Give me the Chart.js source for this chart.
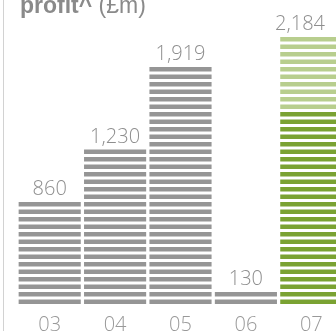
<!DOCTYPE html>
<html>
<head>
<meta charset="utf-8">
<script src="https://cdn.jsdelivr.net/npm/chart.js@4/dist/chart.umd.min.js"></script>
<style>
  html, body { margin: 0; padding: 0; background: #fff; overflow: hidden; }
  #frame { width: 336px; height: 331px; overflow: hidden; position: relative; }
  #wrap { position: absolute; left: 0; top: 0; width: 345px; height: 331px; }
</style>
</head>
<body>
<div id="frame"><div id="wrap"><canvas id="chart"></canvas></div></div>
<script>
// Financial years
const years = ['03', '04', '05', '06', '07'];
// Profit (£m): main part of each year's bar
const profitMain = [860, 1230, 1919, 130, 1560];
// Profit (£m): additional part stacked on top (07 only)
const profitExtra = [0, 0, 0, 0, 624];

const titleBold = 'profit^';
const titleRest = ' (£m)';

const GREY = '#959595';
const GREEN = '#7aa232';
const GREEN_LIGHT = '#b8ce8e';
const TEXT = '#8e8e8e';
const LIGHT_FONT = '"Open Sans", Roboto, "Liberation Sans", sans-serif';

// Bars are drawn as stacks of horizontal bands
const STRIPE = 7.5;   // band + gap
const BAND = 4.5;     // band thickness

const fmt = v => v.toLocaleString('en-GB');

const stripedBars = {
  id: 'stripedBars',
  beforeDatasetDraw(chart, args) {
    const { ctx } = chart;
    const yScale = chart.scales.y;
    const y0 = yScale.getPixelForValue(0);
    const ds = chart.data.datasets[args.index];
    ctx.save();
    args.meta.data.forEach((bar, i) => {
      const p = bar.getProps(['x', 'y', 'base', 'width'], true);
      const k0 = Math.round((y0 - p.base) / STRIPE);
      const k1 = Math.round((y0 - p.y) / STRIPE);
      ctx.fillStyle = Array.isArray(ds.backgroundColor) ? ds.backgroundColor[i] : ds.backgroundColor;
      for (let k = k0; k < k1; k++) {
        ctx.fillRect(p.x - p.width / 2, y0 - k * STRIPE - BAND, p.width, BAND);
      }
    });
    ctx.restore();
    return false;
  }
};

const valueLabels = {
  id: 'valueLabels',
  afterDatasetsDraw(chart) {
    const { ctx } = chart;
    const yScale = chart.scales.y;
    const y0 = yScale.getPixelForValue(0);
    const meta = chart.getDatasetMeta(0);
    ctx.save();
    ctx.font = '300 20px ' + LIGHT_FONT;
    ctx.fillStyle = TEXT;
    ctx.textAlign = 'center';
    ctx.textBaseline = 'alphabetic';
    years.forEach((_, i) => {
      const total = profitMain[i] + profitExtra[i];
      const k1 = Math.round((y0 - yScale.getPixelForValue(total)) / STRIPE);
      const bandTop = y0 - (k1 - 1) * STRIPE - BAND;
      const text = fmt(total);
      const w = ctx.measureText(text).width;
      let x = meta.data[i].x;
      x = Math.min(x, 336 - 11 - w / 2);
      ctx.fillText(text, x, bandTop - 7);
    });
    ctx.restore();
  }
};

const frameDecor = {
  id: 'frameDecor',
  afterDraw(chart) {
    const { ctx } = chart;
    ctx.save();
    ctx.strokeStyle = '#d2d2d2';
    ctx.lineWidth = 1;
    ctx.beginPath();
    ctx.moveTo(3.5, 0);
    ctx.lineTo(3.5, chart.height);
    ctx.stroke();

    ctx.fillStyle = '#8a8a8a';
    ctx.textBaseline = 'alphabetic';
    ctx.textAlign = 'left';
    ctx.font = 'bold 23px "Liberation Sans", Arial, sans-serif';
    ctx.fillText(titleBold, 20, 13);
    const w = ctx.measureText(titleBold).width;
    ctx.font = '23px "Liberation Sans", Arial, sans-serif';
    ctx.fillText(titleRest, 20 + w, 13);
    ctx.restore();
  }
};

new Chart(document.getElementById('chart'), {
  type: 'bar',
  data: {
    labels: years,
    datasets: [
      {
        data: profitMain,
        backgroundColor: [GREY, GREY, GREY, GREY, GREEN],
        categoryPercentage: 1,
        barPercentage: 0.95
      },
      {
        data: profitExtra,
        backgroundColor: GREEN_LIGHT,
        categoryPercentage: 1,
        barPercentage: 0.95
      }
    ]
  },
  options: {
    responsive: true,
    maintainAspectRatio: false,
    animation: false,
    layout: { padding: { left: 17, right: 1, top: 4, bottom: 0 } },
    plugins: {
      legend: { display: false },
      tooltip: { enabled: false },
      title: { display: false }
    },
    scales: {
      x: {
        stacked: true,
        grid: { display: false, drawTicks: false },
        border: { display: false },
        ticks: {
          color: '#999999',
          padding: 9,
          font: { family: LIGHT_FONT, size: 20, weight: '300' }
        },
        afterFit(scale) { scale.height = 27; }
      },
      y: {
        stacked: true,
        display: false,
        min: 0,
        max: 2400
      }
    }
  },
  plugins: [stripedBars, valueLabels, frameDecor]
});
</script>
</body>
</html>
